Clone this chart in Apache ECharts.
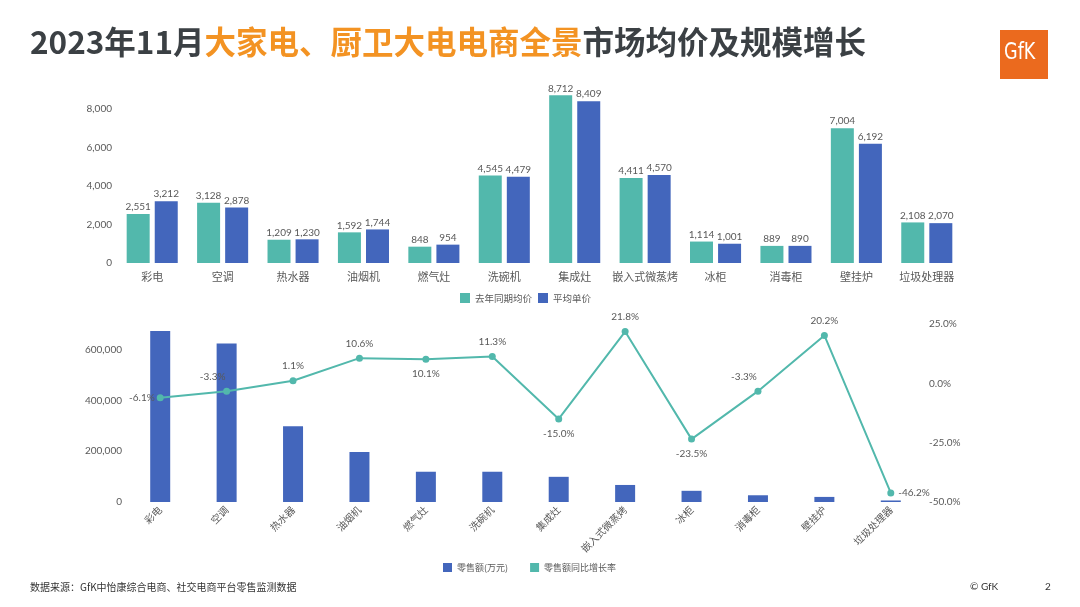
<!DOCTYPE html>
<html><head><meta charset="utf-8">
<script src="https://cdn.jsdelivr.net/npm/echarts@6/dist/echarts.min.js"></script>
<style>html,body{margin:0;padding:0;background:#fff}#c{width:1080px;height:607px}</style>
</head><body><div id="c"></div>
<script>
const categories = ['彩电','空调','热水器','油烟机','燃气灶','洗碗机','集成灶','嵌入式微蒸烤','冰柜','消毒柜','壁挂炉','垃圾处理器'];
const lastYearPrice = [2551,3128,1209,1592,848,4545,8712,4411,1114,889,7004,2108];
const avgPrice = [3212,2878,1230,1744,954,4479,8409,4570,1001,890,6192,2070];
const salesWan = [672000,623000,298000,197000,119000,119000,99000,67000,44000,26500,20000,6000];
const growthPct = [-6.1,-3.3,1.1,10.6,10.1,11.3,-15.0,21.8,-23.5,-3.3,20.2,-46.2];
const priceTicks = [0,2000,4000,6000,8000];
const salesTicks = [0,200000,400000,600000];
const pctTicks = [-50,-25,0,25];

const labelPos = ['left','top','top','top','bottom','top','bottom','top','bottom','top','top','right'];
const labelOff = [[4,0],[-14,0],[0,0],[0,0],[0,0],[0,0],[0,0],[0,0],[0,0],[-14,0],[0,0],[-2,0]];

const TEAL = '#52B8AC', BLUE = '#4366BC', TXT = '#595959';
const chart = echarts.init(document.getElementById('c'));
chart.setOption({
  animation:false,
  textStyle:{fontFamily:'Lato, "Noto Sans CJK SC", sans-serif'},
  title:[{
    left:25, top:21,
    text:'{a|2023年11月}{b|大家电、厨卫大电电商全景}{a|市场均价及规模增长}',
    textStyle:{rich:{
      a:{fontSize:31.5,fontWeight:'bold',color:'#3B4044',fontFamily:'"Noto Sans CJK SC", sans-serif'},
      b:{fontSize:31.5,fontWeight:'bold',color:'#F39323',fontFamily:'"Noto Sans CJK SC", sans-serif'}
    }}
  },{
    left:25, top:577, text:'数据来源：GfK中怡康综合电商、社交电商平台零售监测数据',
    textStyle:{fontSize:10,fontWeight:'normal',color:'#333',fontFamily:'"Noto Sans CJK SC", sans-serif'}
  },{
    left:965, top:577, text:'© GfK',
    textStyle:{fontSize:10,fontWeight:'normal',color:'#333'}
  },{
    left:1040, top:577, text:'2',
    textStyle:{fontSize:10,fontWeight:'normal',color:'#333'}
  }],
  graphic:[
    {type:'rect',left:1000,top:30,shape:{width:48,height:49},style:{fill:'#EB6A1E'}},
    {type:'text',left:1004,top:42,scaleX:0.85,style:{text:'GfK',fill:'#fff',fontSize:23,fontFamily:'"Liberation Sans Narrow", "DejaVu Sans Condensed", sans-serif'}}
  ],
  legend:[{
    data:['去年同期均价','平均单价'], left:455, top:288, itemWidth:10, itemHeight:10, itemGap:6,
    icon:'rect',
    textStyle:{fontSize:9.5,color:TXT,fontFamily:'"Noto Sans CJK SC", sans-serif'}
  },{
    data:['零售额(万元)','零售额同比增长率'], left:438, top:558, itemWidth:9, itemHeight:9, itemGap:22,
    icon:'rect',
    textStyle:{fontSize:9,color:TXT,fontFamily:'"Noto Sans CJK SC", sans-serif'}
  }],
  grid:[
    {left:117, right:118, top:70.5, height:192.5},
    {left:127, right:156, top:324, height:178}
  ],
  xAxis:[
    {type:'category', gridIndex:0, data:categories,
      axisLine:{show:false}, axisTick:{show:false},
      axisLabel:{fontSize:11,color:TXT,margin:8,interval:0,fontFamily:'"Noto Sans CJK SC", sans-serif'}},
    {type:'category', gridIndex:1, data:categories,
      axisLine:{show:false}, axisTick:{show:false},
      axisLabel:{fontSize:10,color:TXT,margin:6,rotate:45,interval:0,fontFamily:'"Noto Sans CJK SC", sans-serif'}}
  ],
  yAxis:[
    {type:'value', gridIndex:0, min:0, max:10000, interval:2000,
      splitLine:{show:false}, axisLine:{show:false}, axisTick:{show:false},
      axisLabel:{fontSize:10,color:TXT,margin:5,showMaxLabel:false,
        formatter:v=>priceTicks.includes(v)?v.toLocaleString('en-US'):''}},
    {type:'value', gridIndex:1, min:0, max:700000, interval:200000,
      splitLine:{show:false}, axisLine:{show:false}, axisTick:{show:false},
      axisLabel:{fontSize:10,color:TXT,margin:5,showMaxLabel:false,
        formatter:v=>salesTicks.includes(v)?v.toLocaleString('en-US'):''}},
    {type:'value', gridIndex:1, min:-50, max:25, interval:25, position:'right',
      splitLine:{show:false}, axisLine:{show:false}, axisTick:{show:false},
      axisLabel:{fontSize:10,color:TXT,margin:5,
        formatter:v=>pctTicks.includes(v)?v.toFixed(1)+'%':''}}
  ],
  series:[
    {name:'去年同期均价', type:'bar', xAxisIndex:0, yAxisIndex:0, data:lastYearPrice,
      barWidth:23, barGap:'22%', itemStyle:{color:TEAL},
      label:{show:true,position:'top',distance:2,fontSize:10,color:TXT,formatter:p=>p.value.toLocaleString('en-US')}},
    {name:'平均单价', type:'bar', xAxisIndex:0, yAxisIndex:0, data:avgPrice,
      barWidth:23, barGap:'22%', itemStyle:{color:BLUE},
      label:{show:true,position:'top',distance:2,fontSize:10,color:TXT,formatter:p=>p.value.toLocaleString('en-US')}},
    {name:'零售额(万元)', type:'bar', xAxisIndex:1, yAxisIndex:1, data:salesWan,
      barWidth:20, itemStyle:{color:BLUE}},
    {name:'零售额同比增长率', type:'line', xAxisIndex:1, yAxisIndex:2,
      data:growthPct.map((v,i)=>({value:v,label:{position:labelPos[i],offset:labelOff[i]}})),
      symbol:'circle', symbolSize:7, lineStyle:{color:TEAL,width:2}, itemStyle:{color:TEAL},
      label:{show:true,fontSize:10,color:TXT,distance:6,formatter:p=>p.value.toFixed(1)+'%'}}
  ]
});
</script>
</body></html>
